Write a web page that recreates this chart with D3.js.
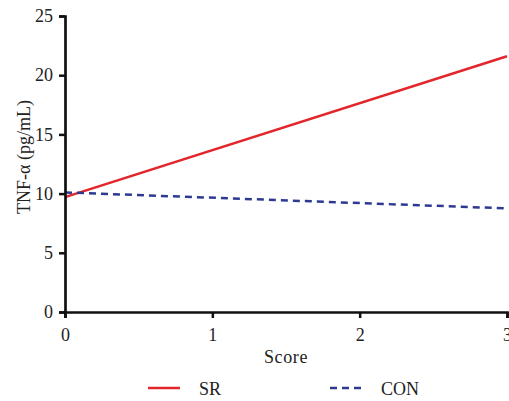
<!DOCTYPE html>
<html>
<head>
<meta charset="utf-8">
<script src="https://cdn.jsdelivr.net/npm/d3@7"></script>
<style>
  body { margin: 0; background: #fff; }
  svg text { font-family: "Liberation Serif", "Times New Roman", serif; fill: #222; }
</style>
</head>
<body>
<svg id="chart" width="509" height="401"></svg>
<script>
// data
var xDomain = [0, 3];
var yTicks = [0, 5, 10, 15, 20, 25];
var xTicks = [0, 1, 2, 3];
var srLine = [{x: 0, y: 9.7}, {x: 3, y: 21.6}];
var conLine = [{x: 0, y: 10.1}, {x: 3, y: 8.75}];
var series = [
  {name: 'SR', values: srLine, color: '#e3262b', dash: null},
  {name: 'CON', values: conLine, color: '#2e3a92', dash: '7,5'}
];

(function(){
  var svg = d3.select('#chart');
  var pLeft = 65, pRight = 507, pTop = 16, pBottom = 312;
  var serif = '"Liberation Serif", "Times New Roman", serif';
  var fs = '18px';

  var x = d3.scaleLinear().domain(xDomain).range([pLeft, pRight]);
  var y = d3.scaleLinear().domain([0, 25]).range([pBottom, pTop]);

  var line = d3.line().x(function(d){ return x(d.x); }).y(function(d){ return y(d.y); });

  series.forEach(function(s){
    svg.append('path')
      .datum(s.values)
      .attr('d', line)
      .attr('fill', 'none')
      .attr('stroke', s.color)
      .attr('stroke-width', 2.5)
      .attr('stroke-dasharray', s.dash);
  });

  var yAxis = svg.append('g')
    .attr('transform', 'translate(' + pLeft + ',0)')
    .call(d3.axisLeft(y).tickValues(yTicks).tickFormat(d3.format('d')).tickSize(6).tickPadding(6));
  var xAxis = svg.append('g')
    .attr('transform', 'translate(0,' + pBottom + ')')
    .call(d3.axisBottom(x).tickValues(xTicks).tickFormat(d3.format('d')).tickSize(6).tickPadding(10));

  [xAxis, yAxis].forEach(function(g){
    g.attr('font-family', serif).attr('font-size', 18);
    g.select('.domain').attr('stroke', '#111').attr('stroke-width', 2.7);
    g.selectAll('.tick line').attr('stroke', '#111').attr('stroke-width', 2.5);
    g.selectAll('.tick text').style('font-family', serif).style('font-size', fs).attr('fill', '#333');
  });

  svg.append('text')
    .attr('x', x(1.5))
    .attr('y', 363)
    .attr('text-anchor', 'middle')
    .style('font-size', fs)
    .style('letter-spacing', '0.6px')
    .text('Score');

  svg.append('text')
    .attr('transform', 'translate(30,157) rotate(-90)')
    .attr('text-anchor', 'middle')
    .style('font-size', fs)
    .text('TNF-α (pg/mL)');

  // legend
  var legendX = [148, 330];
  series.forEach(function(s, i){
    var lg = svg.append('g').attr('transform', 'translate(' + legendX[i] + ',388)');
    lg.append('line')
      .attr('x1', 0).attr('x2', 32).attr('y1', 0).attr('y2', 0)
      .attr('stroke', s.color).attr('stroke-width', 2.5)
      .attr('stroke-dasharray', s.dash);
    lg.append('text')
      .attr('x', 51).attr('y', 7)
      .style('font-size', fs)
      .text(s.name);
  });
})();
</script>
</body>
</html>
